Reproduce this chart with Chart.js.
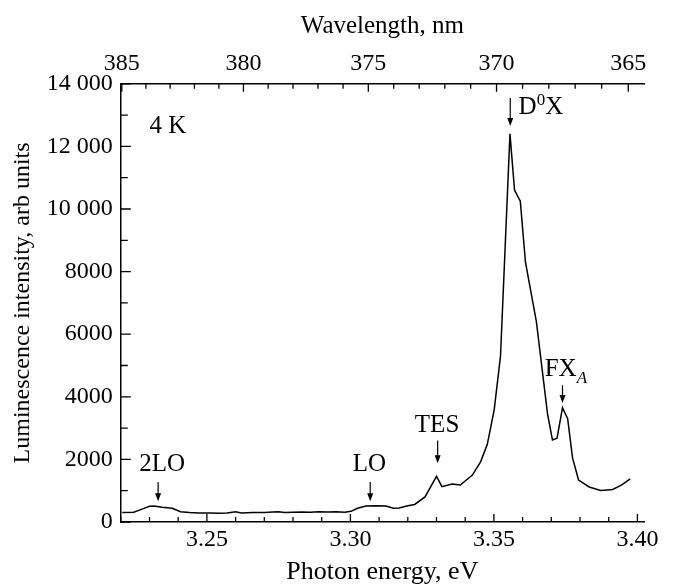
<!DOCTYPE html>
<html>
<head>
<meta charset="utf-8">
<script src="https://cdn.jsdelivr.net/npm/chart.js@4/dist/chart.umd.min.js"></script>
<style>
  html, body { margin: 0; padding: 0; background: #fff; }
  #wrap { width: 675px; height: 588px; }
</style>
</head>
<body>
<div id="wrap"><canvas id="plChart"></canvas></div>
<script>
// photoluminescence spectrum, 4 K
var energy = [3.2205, 3.2245, 3.2274, 3.2300, 3.2315, 3.2344, 3.2379, 3.2408, 3.2440, 3.2470,
  3.2507, 3.2540, 3.2570, 3.2600, 3.2620, 3.2660, 3.2700, 3.2730, 3.2750, 3.2770,
  3.2800, 3.2830, 3.2860, 3.2890, 3.2920, 3.2950, 3.2980, 3.3002, 3.3025, 3.3054,
  3.3090, 3.3124, 3.3150, 3.3170, 3.3200, 3.3224, 3.3260, 3.3300, 3.3319, 3.3354,
  3.3383, 3.3425, 3.3454, 3.3477, 3.3501, 3.3523, 3.3556, 3.3572, 3.3592, 3.3610,
  3.3648, 3.3687, 3.3704, 3.3720, 3.3739, 3.3757, 3.3774, 3.3795, 3.3832, 3.3872,
  3.3914, 3.3944, 3.3975];
var intensity = [300, 310, 410, 500, 510, 470, 440, 330, 300, 290,
  290, 280, 290, 330, 290, 300, 300, 320, 330, 300,
  310, 320, 310, 330, 320, 330, 310, 340, 440, 510,
  520, 510, 440, 450, 520, 560, 800, 1460, 1130, 1210,
  1180, 1500, 1930, 2480, 3580, 5300, 12400, 10600, 10250, 8300,
  6400, 3450, 2620, 2680, 3650, 3300, 2050, 1340, 1120, 1010,
  1040, 1180, 1380];

var energyTicks = [3.22, 3.23, 3.24, 3.25, 3.26, 3.27, 3.28, 3.29, 3.30, 3.31,
  3.32, 3.33, 3.34, 3.35, 3.36, 3.37, 3.38, 3.39, 3.40];
var energyLabels = ['3.25', '3.30', '3.35', '3.40'];
var wavelengthTicks = [385, 384, 383, 382, 381, 380, 379, 378, 377, 376, 375,
  374, 373, 372, 371, 370, 369, 368, 367, 366, 365];
var wavelengthLabels = ['385', '380', '375', '370', '365'];
var intensityTicks = [0, 1000, 2000, 3000, 4000, 5000, 6000, 7000, 8000,
  9000, 10000, 11000, 12000, 13000, 14000];
var intensityLabels = ['0', '2000', '4000', '6000', '8000', '10 000', '12 000', '14 000'];

var HC = 1239.84; // eV*nm
var FONT = 'Liberation Serif, Times New Roman, serif';
var TICK_SIZE = 24, TEXT_SIZE = 25;

// peak labels: text parts, label position (eV, counts), arrow x and span
var notes = [
  { parts: [{ t: '2LO' }], x: 3.2344, y: 1840, align: 'center', ax: 3.2330, a1: 1275, a2: 665 },
  { parts: [{ t: 'LO' }], x: 3.3066, y: 1840, align: 'center', ax: 3.3069, a1: 1275, a2: 665 },
  { parts: [{ t: 'TES' }], x: 3.3302, y: 3070, align: 'center', ax: 3.3304, a1: 2600, a2: 1880 },
  { parts: [{ t: 'D' }, { t: '0', sup: true }, { t: 'X' }], x: 3.3586, y: 13250, align: 'left', ax: 3.3557, a1: 13550, a2: 12650 },
  { parts: [{ t: 'FX' }, { t: 'A', sub: true }], x: 3.3677, y: 4860, align: 'left', ax: 3.3739, a1: 4370, a2: 3800 },
  { parts: [{ t: '4 K' }], x: 3.2364, y: 12650, align: 'center' }
];

var annotatePlugin = {
  id: 'annotate',
  afterDraw: function (chart) {
    var c = chart.ctx, xs = chart.scales.x, ys = chart.scales.y, x2 = chart.scales.x2;
    var area = chart.chartArea;
    c.save();
    c.strokeStyle = '#000';
    c.fillStyle = '#000';
    c.lineWidth = 1.3;
    // inward tick marks
    c.beginPath();
    xs.ticks.forEach(function (t) {
      var px = xs.getPixelForValue(t.value);
      var major = Math.abs(t.value * 20 - Math.round(t.value * 20)) < 1e-6;
      c.moveTo(px, area.bottom); c.lineTo(px, area.bottom - (major ? 8 : 5));
    });
    x2.ticks.forEach(function (t) {
      var px = x2.getPixelForValue(t.value);
      var major = Math.round(HC / t.value) % 5 === 0;
      c.moveTo(px, area.top); c.lineTo(px, area.top + (major ? 8 : 5));
    });
    ys.ticks.forEach(function (t) {
      var py = ys.getPixelForValue(t.value);
      var major = t.value % 2000 === 0;
      c.moveTo(area.left, py); c.lineTo(area.left + (major ? 10 : 7), py);
    });
    c.stroke();

    // labels and arrows
    notes.forEach(function (n) {
      var px = xs.getPixelForValue(n.x), py = ys.getPixelForValue(n.y);
      var w = 0;
      n.parts.forEach(function (p) {
        c.font = (p.sub ? 'italic ' : '') + ((p.sup || p.sub) ? 17 : TEXT_SIZE) + 'px ' + FONT;
        w += c.measureText(p.t).width;
      });
      var cx = n.align === 'center' ? px - w / 2 : px;
      c.textBaseline = 'middle';
      c.textAlign = 'left';
      n.parts.forEach(function (p) {
        c.font = (p.sub ? 'italic ' : '') + ((p.sup || p.sub) ? 17 : TEXT_SIZE) + 'px ' + FONT;
        var dy = p.sup ? -7 : (p.sub ? 9 : 0);
        c.fillText(p.t, cx, py + dy);
        cx += c.measureText(p.t).width;
      });
      if (n.ax !== undefined) {
        var ax = xs.getPixelForValue(n.ax);
        var y1 = ys.getPixelForValue(n.a1), y2 = ys.getPixelForValue(n.a2);
        c.lineWidth = 1.2;
        c.beginPath(); c.moveTo(ax, y1); c.lineTo(ax, y2 - 6); c.stroke();
        c.beginPath(); c.moveTo(ax, y2); c.lineTo(ax - 3, y2 - 8); c.lineTo(ax + 3, y2 - 8); c.closePath(); c.fill();
      }
    });
    c.restore();
  }
};

var points = energy.map(function (e, i) { return { x: e, y: intensity[i] }; });

var ctx = document.getElementById('plChart').getContext('2d');
var plChart = new Chart(ctx, {
  type: 'line',
  data: {
    datasets: [{
      label: 'PL 4 K',
      data: points,
      borderColor: '#000',
      borderWidth: 1.5,
      pointRadius: 0,
      tension: 0,
      fill: false
    }]
  },
  options: {
    responsive: true,
    maintainAspectRatio: false,
    animation: false,
    layout: { padding: { top: 11, right: 31, left: 8, bottom: 0 } },
    plugins: { legend: { display: false }, tooltip: { enabled: false } },
    scales: {
      x: {
        type: 'linear', position: 'bottom', min: 3.22, max: 3.4023,
        afterBuildTicks: function (s) { s.ticks = energyTicks.map(function (v) { return { value: v }; }); },
        ticks: {
          autoSkip: false, maxRotation: 0, padding: 3, color: '#000',
          font: { family: FONT, size: TICK_SIZE },
          callback: function (v) { var s = v.toFixed(2); return energyLabels.indexOf(s) >= 0 ? s : ''; }
        },
        grid: { drawOnChartArea: false, drawTicks: false },
        border: { display: true, color: '#000', width: 1.5 },
        title: { display: true, text: 'Photon energy, eV', color: '#000', font: { family: FONT, size: 26 }, padding: { top: 0, bottom: 0 } }
      },
      x2: {
        type: 'linear', position: 'top', min: 3.22, max: 3.4023,
        afterBuildTicks: function (s) { s.ticks = wavelengthTicks.map(function (w) { return { value: HC / w }; }); },
        ticks: {
          autoSkip: false, maxRotation: 0, padding: 6, color: '#000',
          font: { family: FONT, size: TICK_SIZE },
          callback: function (v) { var s = String(Math.round(HC / v)); return wavelengthLabels.indexOf(s) >= 0 ? s : ''; }
        },
        grid: { drawOnChartArea: false, drawTicks: false },
        border: { display: true, color: '#000', width: 1.5 },
        title: { display: true, text: 'Wavelength, nm', color: '#000', font: { family: FONT, size: TEXT_SIZE }, padding: { top: 0, bottom: 2 } }
      },
      y: {
        type: 'linear', min: 0, max: 14000,
        afterBuildTicks: function (s) { s.ticks = intensityTicks.map(function (v) { return { value: v }; }); },
        ticks: {
          autoSkip: false, padding: 8, color: '#000',
          font: { family: FONT, size: TICK_SIZE },
          callback: function (v) {
            if (v % 2000 !== 0) return '';
            return intensityLabels[v / 2000];
          }
        },
        grid: { drawOnChartArea: false, drawTicks: false },
        border: { display: true, color: '#000', width: 1.5 },
        title: { display: true, text: 'Luminescence intensity, arb units', color: '#000', font: { family: FONT, size: 24 }, padding: { top: 0, bottom: 2 } }
      }
    }
  },
  plugins: [annotatePlugin]
});
</script>
</body>
</html>
